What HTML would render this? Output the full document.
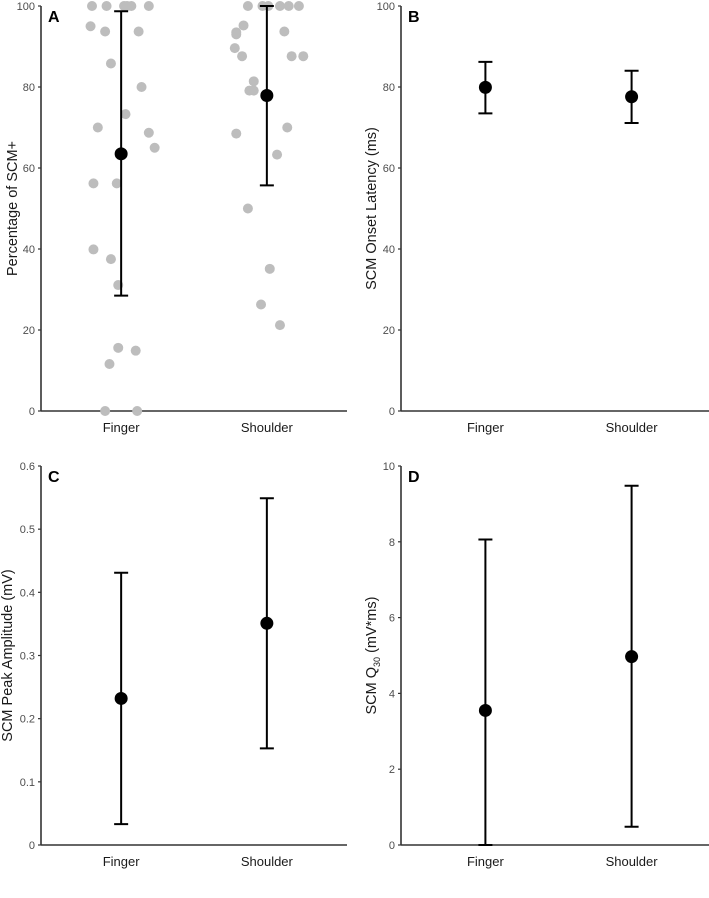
<!DOCTYPE html>
<html><head><meta charset="utf-8"><style>
html,body{margin:0;padding:0;background:#fff}
svg{display:block;font-family:"Liberation Sans",Arial,sans-serif}
</style></head><body>
<svg id="fig" width="709" height="898" viewBox="0 0 709 898" xmlns="http://www.w3.org/2000/svg"></svg>
<script>
const categories = ["Finger", "Shoulder"];
// Panel A individual points: values and horizontal jitter (category units)
const fingerPoints = [100,100,100,100,100,100,95,93.7,93.7,85.8,80,73.3,70,68.7,65,56.2,56.2,39.9,37.5,31.1,15.6,14.9,11.6,0,0];
const fingerJitter = [-0.2,-0.1,0.02,0.04,0.07,0.19,-0.21,-0.11,0.12,-0.07,0.14,0.03,-0.16,0.19,0.23,-0.19,-0.03,-0.19,-0.07,-0.02,-0.02,0.1,-0.08,-0.11,0.11];
const shoulderPoints = [100,100,100,100,100,100,95.2,93.5,93,93.7,89.6,87.6,87.6,87.6,81.4,79.1,79.1,70,68.5,63.3,50,35.1,26.3,21.2];
const shoulderJitter = [-0.13,-0.03,0.01,0.09,0.15,0.22,-0.16,-0.21,-0.21,0.12,-0.22,-0.17,0.17,0.25,-0.09,-0.12,-0.09,0.14,-0.21,0.07,-0.13,0.02,-0.04,0.09];
const meansA = [63.5, 77.9]; const lowA = [28.5, 55.7]; const highA = [98.7, 100];
const meansB = [79.9, 77.6]; const lowB = [73.5, 71.1]; const highB = [86.2, 84.0];
const meansC = [0.232, 0.351]; const lowC = [0.033, 0.153]; const highC = [0.431, 0.549];
const meansD = [3.55, 4.97]; const lowD = [0, 0.48]; const highD = [8.06, 9.48];
const ticksA = [0,20,40,60,80,100];
const ticksB = [0,20,40,60,80,100];
const ticksC = [0,0.1,0.2,0.3,0.4,0.5,0.6];
const ticksD = [0,2,4,6,8,10];

const NS="http://www.w3.org/2000/svg";
const svg=document.getElementById('fig');
function mk(tag,attrs,parent){const e=document.createElementNS(NS,tag);for(const k in attrs)e.setAttribute(k,attrs[k]);(parent||svg).appendChild(e);return e;}

function panel(cfg){
  const g=mk('g',{});
  
  
  const L=cfg.left,R=cfg.right,T=cfg.top,B=cfg.bottom;
  const y=v=>B-(v-cfg.ymin)/(cfg.ymax-cfg.ymin)*(B-T);
  const x=i=>cfg.xl+(i+1-0.45)/2.1*(cfg.xr-cfg.xl);
  // axes
  const ya=mk('line',{x1:L,y1:T,x2:L,y2:B,stroke:'#333','stroke-width':1.6},g);
  
  
  const xa=mk('line',{x1:L,y1:B,x2:R,y2:B,stroke:'#333','stroke-width':1.6},g);
  
  
  cfg.ticks.forEach(t=>{
    mk('line',{x1:L-3,y1:y(t),x2:L,y2:y(t),stroke:'#333','stroke-width':1.2},g);
    const tl=mk('text',{x:L-6,y:y(t)+4,'text-anchor':'end','font-size':11,fill:'#4d4d4d'},g);
    tl.textContent=String(t);
    
    
  });
  categories.forEach((c,i)=>{
    const t=mk('text',{x:x(i),y:B+21,'text-anchor':'middle','font-size':13,fill:'#1a1a1a'},g);
    t.textContent=c;
    
    
  });
  // title
  const tx=cfg.titleX, ty=(T+B)/2;
  const tt=mk('text',{x:tx,y:ty,'text-anchor':'middle','font-size':14.5,fill:'#1a1a1a',transform:`rotate(-90 ${tx} ${ty})`},g);
  if(cfg.sub){
    tt.appendChild(document.createTextNode('SCM Q'));
    const s=mk('tspan',{'font-size':9,dy:4},tt);s.textContent='30';
    const r=mk('tspan',{dy:-4},tt);r.textContent=' (mV*ms)';
  } else tt.textContent=cfg.title;
  
  
  const pl=mk('text',{x:L+7,y:T+16,'font-size':16,'font-weight':'bold',fill:'#000'},g);
  pl.textContent=cfg.letter;
  
  
  // points
  if(cfg.points){
    cfg.points.forEach((arr,i)=>arr.forEach((v,j)=>{
      const c=mk('circle',{cx:x(i+cfg.jitter[i][j]),cy:y(v),r:5,fill:'#bdbdbd'},g);
      
      
    }));
  }
  cfg.means.forEach((m,i)=>{
    const cx=x(i);
    const e=mk('path',{d:`M${cx-7},${y(cfg.high[i])}H${cx+7}M${cx},${y(cfg.high[i])}V${y(cfg.low[i])}M${cx-7},${y(cfg.low[i])}H${cx+7}`,stroke:'#000','stroke-width':2,fill:'none'},g);
    
    
    const d=mk('circle',{cx:cx,cy:y(m),r:6.5,fill:'#000'},g);
    
    
  });
}
panel({name:'panel-a',letter:'A',left:41,right:347,top:6,bottom:411,xl:41,xr:347,ymin:0,ymax:100,ticks:ticksA,title:'Percentage of SCM+',titleX:17,
  means:meansA,low:lowA,high:highA,points:[fingerPoints,shoulderPoints],jitter:[fingerJitter,shoulderJitter]});
panel({name:'panel-b',letter:'B',left:401,right:709,top:6,bottom:411,xl:405,xr:712,ymin:0,ymax:100,ticks:ticksB,title:'SCM Onset Latency (ms)',titleX:376,
  means:meansB,low:lowB,high:highB});
panel({name:'panel-c',letter:'C',left:41,right:347,top:466,bottom:845,xl:41,xr:347,ymin:0,ymax:0.6,ticks:ticksC,title:'SCM Peak Amplitude (mV)',titleX:12,
  means:meansC,low:lowC,high:highC});
panel({name:'panel-d',letter:'D',left:401,right:709,top:466,bottom:845,xl:405,xr:712,ymin:0,ymax:10,ticks:ticksD,sub:true,titleX:376,
  means:meansD,low:lowD,high:highD});
</script>
</body></html>
